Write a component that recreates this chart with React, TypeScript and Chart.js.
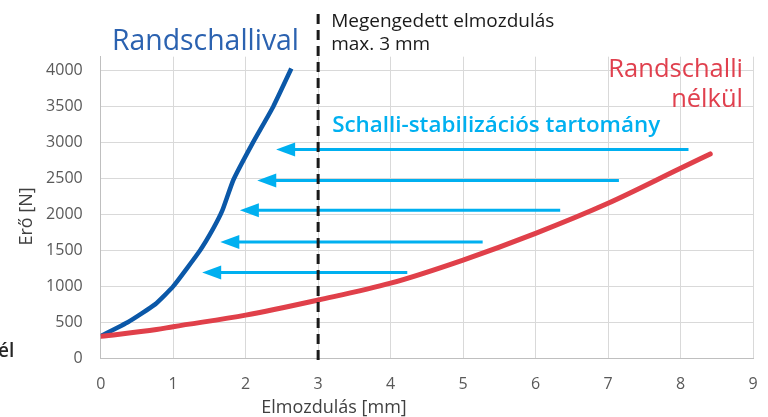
import React, { useEffect, useRef } from "react";
import { Chart, registerables } from "chart.js";

Chart.register(...registerables);

// ---- data ----
const xTickValues = [0, 1, 2, 3, 4, 5, 6, 7, 8, 9];
const yTickValues = [0, 500, 1000, 1500, 2000, 2500, 3000, 3500, 4000];

const withX = [0, 0.38, 0.75, 1.0, 1.37, 1.55, 1.68, 1.83, 2.1, 2.38, 2.63];
const withY = [310, 505, 750, 1000, 1500, 1800, 2060, 2480, 3000, 3500, 4030];

const withoutX = [0, 0.77, 1, 2, 3, 4, 5, 6, 7, 8, 8.41];
const withoutY = [305, 400, 440, 600, 811, 1045, 1367, 1738, 2156, 2643, 2843];

const arrowY = [2905, 2474, 2058, 1618, 1193];
const arrowStartX = [8.11, 7.15, 6.34, 5.27, 4.23];
const arrowTipX = [2.42, 2.16, 1.92, 1.65, 1.4];

const limitX = 3;

const FONT = "'Open Sans', 'Noto Sans', sans-serif";
const ARROW_COLOR = "#00B0F0";
const HEAD_LEN = 19;
const HEAD_HALF = 7;

const overlayPlugin = {
  id: "overlay",
  beforeDatasetDraw(chart: any, args: any) {
    const ds = chart.data.datasets[args.index];
    if (!ds.isArrow) return;
    const tip = args.meta.data[1];
    const ctx = chart.ctx;
    ctx.save();
    ctx.beginPath();
    ctx.rect(tip.x + 8, 0, chart.width, chart.height);
    ctx.clip();
  },
  afterDatasetDraw(chart: any, args: any) {
    const ds = chart.data.datasets[args.index];
    if (!ds.isArrow) return;
    chart.ctx.restore();
  },
  afterDatasetsDraw(chart: any) {
    const ctx = chart.ctx;
    const xs = chart.scales.x;
    const area = chart.chartArea;
    ctx.save();
    // arrow heads
    chart.data.datasets.forEach((ds: any, i: number) => {
      if (!ds.isArrow) return;
      const meta = chart.getDatasetMeta(i);
      const tip = meta.data[1];
      if (!tip) return;
      ctx.fillStyle = ARROW_COLOR;
      ctx.beginPath();
      ctx.moveTo(tip.x, tip.y);
      ctx.lineTo(tip.x + HEAD_LEN, tip.y - HEAD_HALF);
      ctx.lineTo(tip.x + HEAD_LEN, tip.y + HEAD_HALF);
      ctx.closePath();
      ctx.fill();
    });
    // dashed limit line
    const lx = xs.getPixelForValue(limitX);
    ctx.strokeStyle = "#1a1a1a";
    ctx.lineWidth = 3;
    ctx.setLineDash([10, 6]);
    ctx.beginPath();
    ctx.moveTo(lx, 14);
    ctx.lineTo(lx, area.bottom + 3);
    ctx.stroke();
    ctx.setLineDash([]);

    // texts
    ctx.textBaseline = "alphabetic";
    ctx.textAlign = "left";
    ctx.fillStyle = "#2B62B0";
    ctx.font = `28.4px ${FONT}`;
    ctx.fillText("Randschallival", 112, 50);

    ctx.fillStyle = "#1a1a1a";
    ctx.font = `19px ${FONT}`;
    ctx.fillText("Megengedett elmozdulás", lx + 13, 27);
    ctx.fillText("max. 3 mm", lx + 13, 50);

    ctx.fillStyle = "#00B0F0";
    ctx.font = `600 22.4px ${FONT}`;
    ctx.fillText("Schalli-stabilizációs tartomány", lx + 14, 132);

    ctx.fillStyle = "#E0404E";
    ctx.font = `25.5px ${FONT}`;
    ctx.textAlign = "right";
    ctx.fillText("Randschalli", 743, 77);
    ctx.fillText("nélkül", 743, 107);

    ctx.textAlign = "left";
    ctx.fillStyle = "#262626";
    ctx.font = `600 19px ${FONT}`;
    ctx.fillText("él", -2, 357);

    // axis titles
    ctx.fillStyle = "#404040";
    ctx.font = `18px ${FONT}`;
    ctx.textAlign = "center";
    ctx.fillText("Elmozdulás [mm]", 334, 413);
    ctx.save();
    ctx.translate(31.5, 216.5);
    ctx.rotate(-Math.PI / 2);
    ctx.fillText("Erő [N]", 0, 0);
    ctx.restore();
    ctx.restore();
  },
};

export default function App() {
  const ref = useRef<HTMLCanvasElement | null>(null);
  useEffect(() => {
    document.body.style.margin = "0";
    const canvas = ref.current;
    if (!canvas) return;
    const datasets: any[] = [];
    arrowY.forEach((y, i) => {
      datasets.push({
        isArrow: true,
        data: [
          { x: arrowStartX[i], y },
          { x: arrowTipX[i], y },
        ],
        borderColor: ARROW_COLOR,
        borderWidth: 3,
        pointRadius: 0,
        borderCapStyle: "butt",
      });
    });
    datasets.push({
      label: "Randschalli nélkül",
      data: withoutX.map((x, i) => ({ x, y: withoutY[i] })),
      borderColor: "#E0404A",
      borderWidth: 5,
      pointRadius: 0,
      cubicInterpolationMode: "monotone",
      borderCapStyle: "round",
    });
    datasets.push({
      label: "Randschallival",
      data: withX.map((x, i) => ({ x, y: withY[i] })),
      borderColor: "#0B58A8",
      borderWidth: 4.5,
      pointRadius: 0,
      tension: 0.15,
      borderCapStyle: "butt",
    });

    const chart = new Chart(canvas, {
      type: "line",
      data: { datasets },
      plugins: [overlayPlugin],
      options: {
        animation: false,
        responsive: false,
        devicePixelRatio: 1,
        layout: { padding: { left: 0, top: 56.7, right: 15, bottom: 0 } },
        plugins: { legend: { display: false }, tooltip: { enabled: false } },
        scales: {
          x: {
            type: "linear",
            min: 0,
            max: 9,
            afterBuildTicks: (s: any) => {
              s.ticks = xTickValues.map((v) => ({ value: v }));
            },
            afterFit: (s: any) => {
              s.height = 58.7;
              s.paddingLeft = 0;
              s.paddingRight = 0;
            },
            grid: { color: "#D9D9D9", lineWidth: 1, drawTicks: false },
            border: { color: "#BFBFBF", width: 1 },
            ticks: {
              padding: 17,
              color: "#595959",
              font: { family: FONT, size: 16 },
              maxRotation: 0,
              callback: (v: any) => String(v),
            },
            title: { display: false },
          },
          y: {
            type: "linear",
            min: 0,
            max: 4195,
            afterBuildTicks: (s: any) => {
              s.ticks = yTickValues.map((v) => ({ value: v }));
            },
            afterFit: (s: any) => {
              s.width = 100.7;
            },
            grid: { color: "#D9D9D9", lineWidth: 1, drawTicks: false },
            border: { color: "#BFBFBF", width: 1 },
            ticks: {
              padding: 18,
              color: "#595959",
              font: { family: FONT, size: 16 },
              callback: (v: any) => String(v),
            },
            title: { display: false },
          },
        },
      },
    });
    return () => chart.destroy();
  }, []);
  return (
    <div style={{ position: "absolute", left: 0, top: 0, width: 768, height: 417 }}>
      <canvas ref={ref} width={768} height={417} style={{ width: 768, height: 417 }} />
    </div>
  );
}
